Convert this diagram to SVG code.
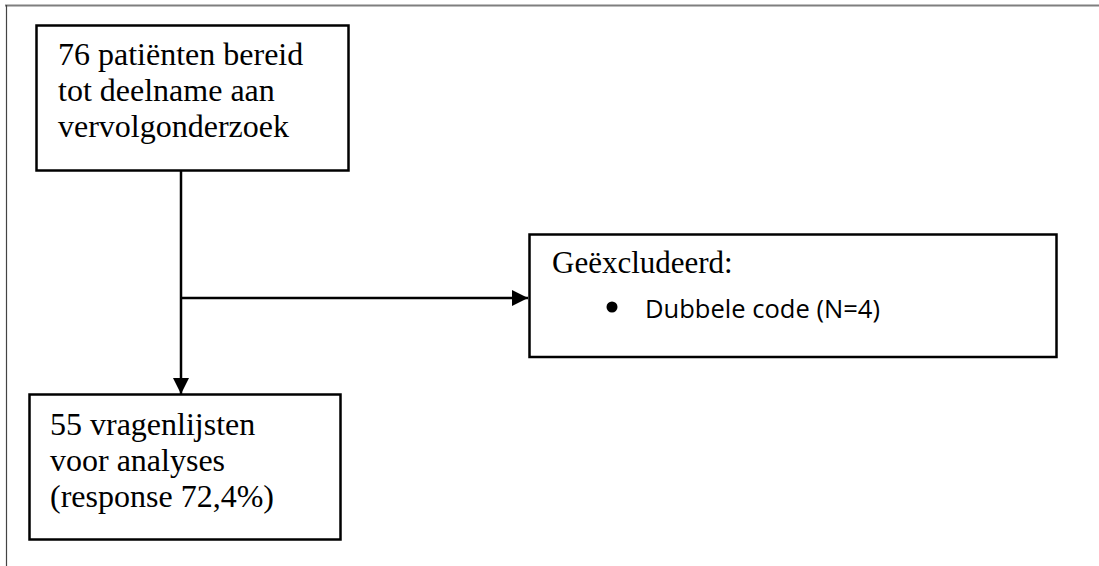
<svg xmlns="http://www.w3.org/2000/svg" width="1099" height="566" viewBox="0 0 1099 566">
<style>
.box{fill:#fff;stroke:#000;stroke-width:2.5}
.serif{font-family:"Liberation Serif","Times New Roman",serif;font-size:32px;fill:#000}
.sans{font-family:"Open Sans","Noto Sans","Liberation Sans",sans-serif;font-size:26px;fill:#000}
.conn{fill:none;stroke:#000;stroke-width:2.5}
</style>
<defs>
<marker id="arrow" markerUnits="userSpaceOnUse" markerWidth="16" markerHeight="16" viewBox="0 0 16 16" refX="16" refY="8" orient="auto">
<path d="M0,0 L16,8 L0,16 Z" fill="#000"/>
</marker>
</defs>
<rect width="1099" height="566" fill="#fff"/>
<g id="frame">
<line x1="5" y1="5.5" x2="1099" y2="5.5" stroke="#7f7f7f" stroke-width="2"/>
<line x1="6.5" y1="5" x2="6.5" y2="566" stroke="#444" stroke-width="1.2"/>
</g>
<g id="connectors">
<line class="conn" x1="181" y1="171" x2="181" y2="394" marker-end="url(#arrow)"/>
<line class="conn" x1="181" y1="298" x2="528" y2="298" marker-end="url(#arrow)"/>
</g>
<g id="node-start">
<rect class="box" x="36.5" y="25.5" width="312" height="145"/>
<text class="serif" x="58" y="65">76 patiënten bereid</text>
<text class="serif" x="58" y="101">tot deelname aan</text>
<text class="serif" x="58" y="137">vervolgonderzoek</text>
</g>
<g id="node-excluded">
<rect class="box" x="529.5" y="234.5" width="527" height="122.5"/>
<text class="serif" x="552" y="273" style="font-size:31px">Geëxcludeerd:</text>
<circle cx="612" cy="307" r="5.5" fill="#000"/>
<text class="sans" x="645" y="318" textLength="235" lengthAdjust="spacingAndGlyphs">Dubbele code (N=4)</text>
</g>
<g id="node-result">
<rect class="box" x="29.5" y="394.5" width="311" height="145"/>
<text class="serif" x="50" y="435">55 vragenlijsten</text>
<text class="serif" x="50" y="471">voor analyses</text>
<text class="serif" x="50" y="507">(response 72,4%)</text>
</g>
</svg>
